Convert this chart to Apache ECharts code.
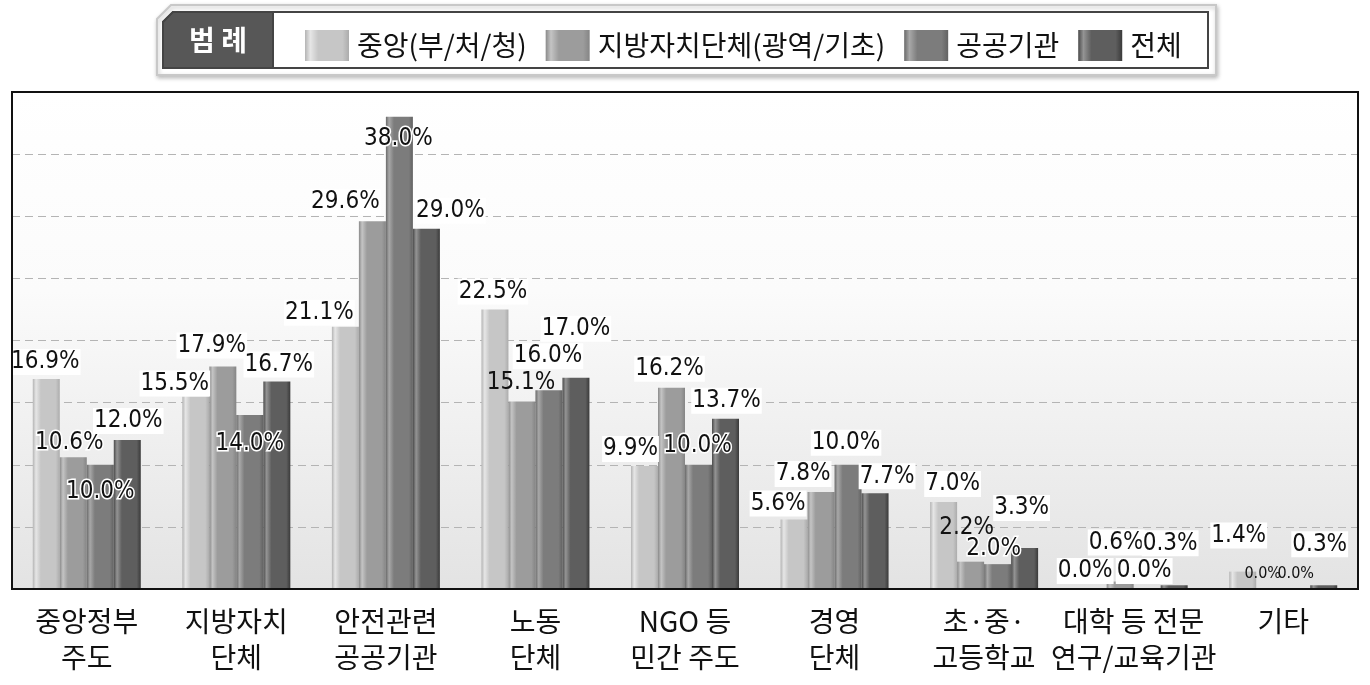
<!DOCTYPE html>
<html>
<head>
<meta charset="utf-8">
<script src="https://cdn.jsdelivr.net/npm/echarts@6/dist/echarts.min.js"></script>
<style>
html,body{margin:0;padding:0;background:#fff;}
#chart{width:1370px;height:685px;}
</style>
</head>
<body>
<div id="chart"></div>
<script>
const categories = ['중앙정부\n주도','지방자치\n단체','안전관련\n공공기관','노동\n단체','NGO 등\n민간 주도','경영\n단체','초·중·\n고등학교','대학 등 전문\n연구/교육기관','기타'];
const seriesNames = ['중앙(부/처/청)','지방자치단체(광역/기초)','공공기관','전체'];
const centralValues = [16.9,15.5,21.1,22.5,9.9,5.6,7.0,0.0,1.4];
const localValues   = [10.6,17.9,29.6,15.1,16.2,7.8,2.2,0.6,0.0];
const publicValues  = [10.0,14.0,38.0,16.0,10.0,10.0,2.0,0.0,0.0];
const totalValues   = [12.0,16.7,29.0,17.0,13.7,7.7,3.3,0.3,0.3];
const yTicks = {min:0, max:40, interval:5};

// label placement tweaks (styling only): key "series-category" -> [dx, dy, mode]
const labelTweaks = {
  '0-0':[-1,1],'1-0':[-4,3,'stroke'],'2-0':[0,45,'stroke'],'3-0':[1,-1],
  '0-1':[-21,5],'1-1':[-11,-3],'2-1':[0,47,'stroke'],'3-1':[2,1],
  '0-2':[-26,4],'1-2':[-27,-1],'2-2':[-1,40,'stroke'],'3-2':[24,0],
  '0-3':[-2,0],'1-3':[-1,-1,'plain'],'2-3':[-1,-16],'3-3':[0,-31],
  '0-4':[-14,1],'1-4':[-2,-1],'2-4':[-1,-1,'stroke'],'3-4':[1,0],
  '0-5':[-16,2],'1-5':[-18,0],'2-5':[-2,-4],'3-5':[12,1],
  '0-6':[9,0],'1-6':[-4,-16,'plain'],'2-6':[-4,3,'stroke'],'3-6':[-3,-22],
  '0-7':[-8,0],'1-7':[-4,-21],'2-7':[-3,0],'3-7':[-4,-24],
  '0-8':[-4,-18],'1-8':[-7,-1,'small'],'2-8':[-1,-1,'small'],'3-8':[-4,-23]
};

const numFont = '"Liberation Sans Narrow","DejaVu Sans Condensed","Arial Narrow","Liberation Sans",sans-serif';
const krFont = '"Noto Sans CJK KR","Noto Sans",sans-serif';

function grad(edgeL, hi, body, edgeR){
  return new echarts.graphic.LinearGradient(0,0,1,0,[
    {offset:0,color:edgeL},{offset:0.12,color:hi},{offset:0.3,color:body},
    {offset:0.85,color:body},{offset:1,color:edgeR}
  ]);
}
const barColors = [
  grad('#b4b4b4','#e6e6e6','#c6c6c6','#acacac'),
  grad('#8a8a8a','#c4c4c4','#9c9c9c','#858585'),
  grad('#6a6a6a','#a8a8a8','#7c7c7c','#626262'),
  grad('#4a4a4a','#949494','#5e5e5e','#3a3a3a')
];

function buildData(values, si){
  return values.map((v, ci) => {
    const t = labelTweaks[si+'-'+ci] || [0,0];
    const mode = t[2] || 'bg';
    const label = {offset:[t[0], t[1]]};
    if (mode === 'stroke') {
      label.textBorderColor = '#fff'; label.textBorderWidth = 3;
    } else if (mode === 'small') {
      label.fontSize = 16; label.backgroundColor = 'transparent';
    } else if (mode === 'plain') {
      label.backgroundColor = 'transparent';
    } else {
      label.backgroundColor = '#fff';
    }
    return {value: v, label: label};
  });
}

const allValues = [centralValues, localValues, publicValues, totalValues];
const series = allValues.map((vals, si) => ({
  name: seriesNames[si],
  type: 'bar',
  barWidth: 27,
  barGap: '0%',
  itemStyle: {color: barColors[si]},
  label: {
    show: true, position: 'top', distance: 5,
    formatter: p => p.value.toFixed(1) + '%',
    fontFamily: numFont, fontSize: 24, color: '#111',
    padding: [1,1]
  },
  data: buildData(vals, si)
}));

const chart = echarts.init(document.getElementById('chart'), null, {renderer:'canvas'});
const cut = 10;
function cutPoly(x1,y1,x2,y2,c){ return [[x1+c,y1],[x2,y1],[x2,y2],[x1,y2],[x1,y1+c]]; }

chart.setOption({
  animation: false,
  backgroundColor: '#fff',
  grid: {
    left: 12, right: 12, top: 92, bottom: 96,
    show: true, borderColor: '#111', borderWidth: 0,
    backgroundColor: new echarts.graphic.LinearGradient(0,0,0,1,[
      {offset:0,color:'#ffffff'},{offset:0.4,color:'#fbfbfb'},{offset:1,color:'#e3e3e3'}
    ])
  },
  legend: {
    left: 300, top: 25,
    itemWidth: 44, itemHeight: 31, itemGap: 19,
    icon: 'rect',
    textStyle: {fontFamily: krFont, fontSize: 28, color: '#111', padding:[0,0,0,3]},
    data: seriesNames
  },
  graphic: [
    {type:'polygon', shape:{points: cutPoly(157,5,1216,75,14)}, style:{fill:'#fff', stroke:'#c8c8c8', lineWidth:2, shadowBlur:4, shadowColor:'rgba(0,0,0,0.25)', shadowOffsetX:1, shadowOffsetY:2}, z:-1},
    {type:'polygon', shape:{points: cutPoly(163,12,1208,68,cut)}, style:{fill:'#fff', stroke:'#444', lineWidth:2}, z:-1},
    {type:'polygon', shape:{points: cutPoly(163,12,273,68,cut)}, style:{fill:'#575757', stroke:'#444', lineWidth:2}, z:0},
    {type:'text', x:218, y:40, style:{text:'범 례', fill:'#fff', font:'bold 28px "Noto Sans CJK KR"', align:'center', verticalAlign:'middle'}, z:1},
    {type:'rect', shape:{x:12, y:92, width:1346, height:497}, style:{fill:'none', stroke:'#111', lineWidth:2}, z:100, silent:true}
  ],
  xAxis: {
    type: 'category',
    data: categories,
    axisLine: {lineStyle:{color:'#111', width:2}},
    axisTick: {inside: true, length: 9, lineStyle:{color:'#111', width:2}},
    axisLabel: {fontFamily: krFont, fontSize: 28, color:'#111', lineHeight: 36, margin: 14, interval: 0}
  },
  yAxis: {
    type: 'value',
    min: yTicks.min, max: yTicks.max, interval: yTicks.interval,
    axisLabel: {show:false}, axisLine:{show:false}, axisTick:{show:false},
    splitLine: {showMaxLine:false, showMinLine:false, lineStyle:{color:'#b4b4b4', type:[8,5], width:1}}
  },
  series: series
});
</script>
</body>
</html>
